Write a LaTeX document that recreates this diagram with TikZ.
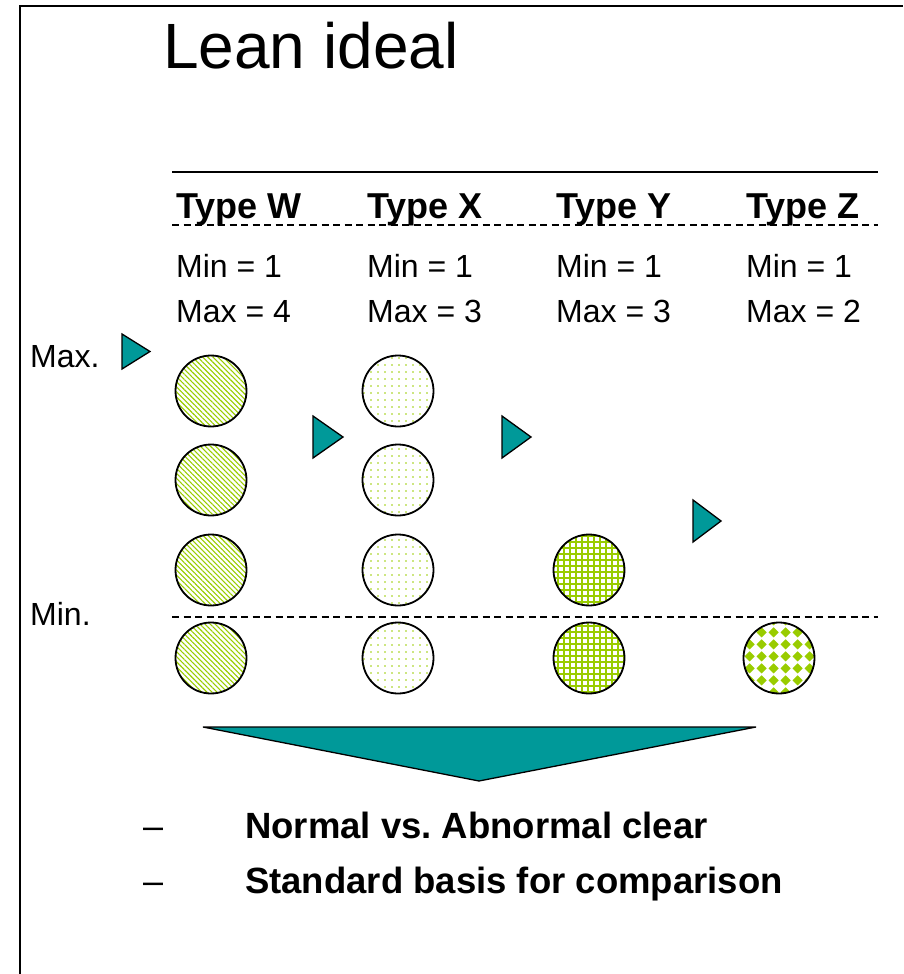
\documentclass[tikz,border=0pt]{standalone}
\usepackage{fontspec}
\setmainfont{Liberation Sans}
\usetikzlibrary{patterns,patterns.meta}
\frenchspacing

\definecolor{arrowteal}{HTML}{009999}
\definecolor{leafgreen}{HTML}{99CC00}

% rotated checkerboard: one diamond per tile
\pgfdeclarepatternformonly{diamondcheck}{\pgfqpoint{0pt}{0pt}}{\pgfqpoint{12pt}{12pt}}{\pgfqpoint{12pt}{12pt}}{%
  \pgfpathmoveto{\pgfqpoint{6pt}{0.6pt}}%
  \pgfpathlineto{\pgfqpoint{11.4pt}{6pt}}%
  \pgfpathlineto{\pgfqpoint{6pt}{11.4pt}}%
  \pgfpathlineto{\pgfqpoint{0.6pt}{6pt}}%
  \pgfpathclose
  \pgfusepath{fill}%
}

\begin{document}
\begin{tikzpicture}[x=1pt,y=-1pt,
  pointer/.style={fill=arrowteal, draw=black, line width=1.3pt, line join=miter},
  token/.style={circle, draw=black, line width=1.8pt, minimum size=71pt, inner sep=0pt},
  tokenW/.style={token, pattern={Lines[angle=-45,distance=3.6pt,line width=1.1pt]}, pattern color=leafgreen},
  tokenX/.style={token, pattern={Dots[angle=0,distance=7pt,radius=0.95pt]}, pattern color=leafgreen},
  tokenY/.style={token, pattern={Hatch[angle=0,distance=6pt,line width=1.6pt]}, pattern color=leafgreen},
  tokenZ/.style={token, pattern=diamondcheck, pattern color=leafgreen},
  solidrule/.style={line width=1.5pt},
  dashrule/.style={line width=1.5pt, dash pattern=on 7pt off 4.5pt},
  plain/.style={anchor=base west, inner sep=0pt, font=\fontsize{32}{38}\selectfont},
  head/.style={anchor=base west, inner sep=0pt, font=\fontsize{36}{42}\selectfont\bfseries},
  bullet/.style={anchor=base west, inner sep=0pt, font=\fontsize{36.5}{42}\selectfont\bfseries}
]
\useasboundingbox (0,0) rectangle (903,974);

% slide frame (left and top edges)
\draw[line width=1.5pt] (20,974) -- (20,6) -- (903,6);

% title
\node[anchor=base west, inner sep=0pt, font=\fontsize{64}{70}\selectfont] (title) at (163,68) {Lean ideal};

% table header rules
\coordinate (topL) at (172,172);  \coordinate (topR) at (878,172);
\coordinate (midL) at (172,225);  \coordinate (midR) at (878,225);
\draw[solidrule] (topL) -- (topR);
\draw[dashrule] (midL) -- (midR);

% column headers and limits
\node[head] (hW) at (176,218) {Type W};
\node[head] (hX) at (367,218) {Type X};
\node[head] (hY) at (556,218) {Type Y};
\node[head] (hZ) at (746,218) {Type Z};

\node[plain] (minW) at (176,277) {Min = 1};
\node[plain] (minX) at (367,277) {Min = 1};
\node[plain] (minY) at (556,277) {Min = 1};
\node[plain] (minZ) at (746,277) {Min = 1};

\node[plain] (maxW) at (176,322) {Max = 4};
\node[plain] (maxX) at (367,322) {Max = 3};
\node[plain] (maxY) at (556,322) {Max = 3};
\node[plain] (maxZ) at (746,322) {Max = 2};

% level labels
\node[plain] (maxlbl) at (30,367) {Max.};
\node[plain] (minlbl) at (30,625) {Min.};

% minimum level rule
\coordinate (minL) at (172,617); \coordinate (minR) at (878,617);
\draw[dashrule] (minL) -- (minR);

% level pointers
\draw[pointer] (122,334) -- (122,369) -- (150,351.5) -- cycle;
\draw[pointer] (313,416) -- (313,458) -- (343,437) -- cycle;
\draw[pointer] (502,416) -- (502,458) -- (531,437) -- cycle;
\draw[pointer] (693,500) -- (693,542) -- (721,521) -- cycle;

% stock tokens
\node[tokenW] (w1) at (211,391) {};
\node[tokenW] (w2) at (211,480) {};
\node[tokenW] (w3) at (211,570) {};
\node[tokenW] (w4) at (211,658) {};

\node[tokenX] (x1) at (398,391) {};
\node[tokenX] (x2) at (398,480) {};
\node[tokenX] (x3) at (398,570) {};
\node[tokenX] (x4) at (398,658) {};

\node[tokenY] (y3) at (589,570) {};
\node[tokenY] (y4) at (589,658) {};

\node[tokenZ] (z4) at (779,658) {};

% summary arrow
\draw[pointer] (203,727) -- (756,727) -- (479,781) -- cycle;

% conclusions
\node[bullet, font=\fontsize{36}{42}\selectfont] (d1) at (143,838) {–};
\node[bullet] (b1) at (245,838) {Normal vs. Abnormal clear};
\node[bullet, font=\fontsize{36}{42}\selectfont] (d2) at (143,893) {–};
\node[bullet] (b2) at (245,893) {Standard basis for comparison};
\end{tikzpicture}
\end{document}
